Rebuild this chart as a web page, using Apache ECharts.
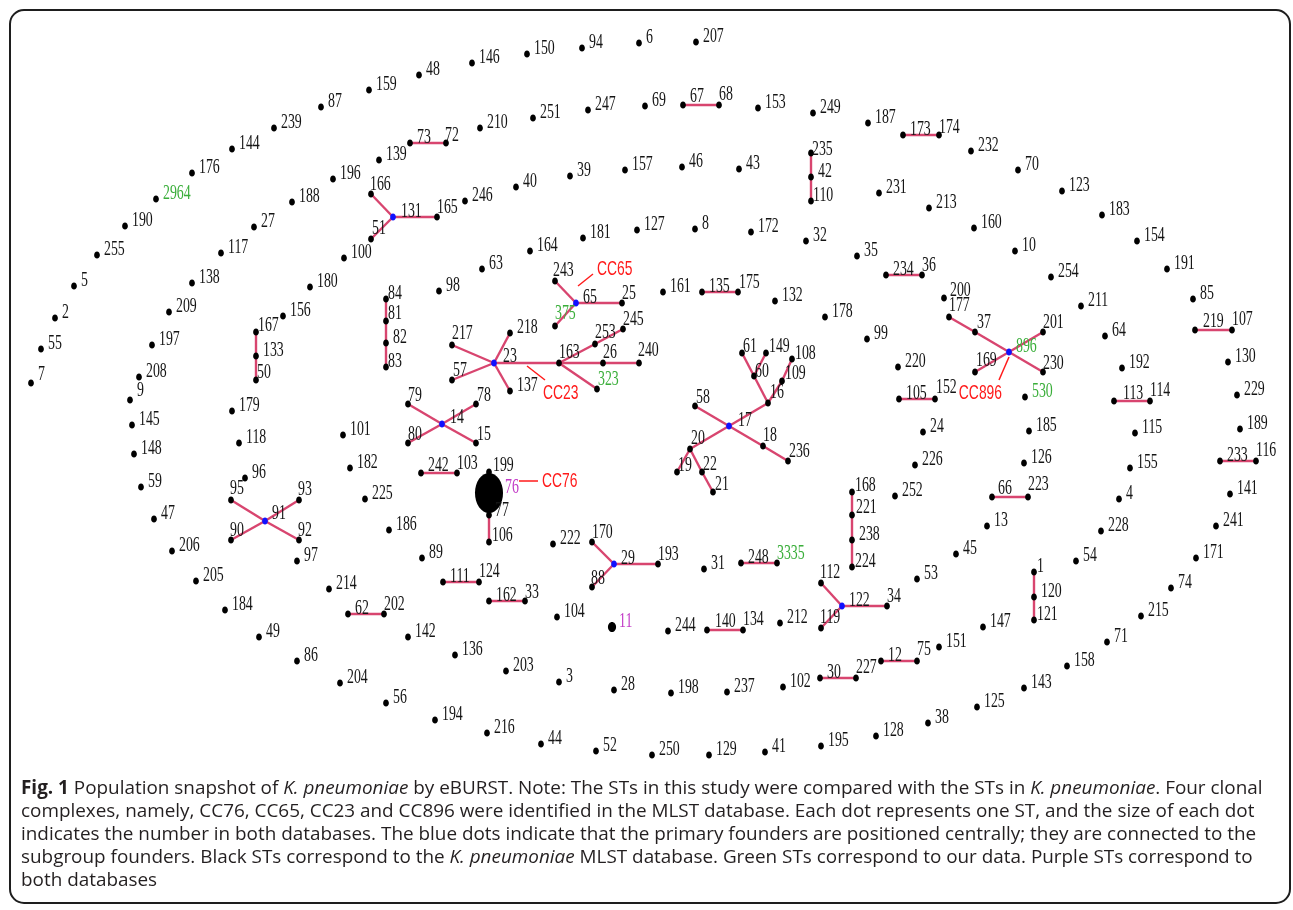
<!DOCTYPE html>
<html>
<head>
<meta charset="utf-8">
<script src="https://cdn.jsdelivr.net/npm/echarts@6/dist/echarts.min.js"></script>
<style>
  html, body { margin: 0; padding: 0; background: #ffffff; }
  #chart { width: 1293px; height: 910px; }
</style>
</head>
<body>
<div id="chart"></div>
<script>
// eBURST snapshot layout: [ST, x, y] in layout units (x to the right, y downward)
const sequenceTypes = [
  // outer ring
  ['7',31,383],['55',41,349],['2',55,318],['5',74,286],['255',97,255],['190',125,226],['2964',156,199],
  ['176',192,173],['144',232,149],['239',274,128],['87',321,107],['159',369,90],['48',419,75],['146',472,63],
  ['150',527,54],['94',582,48],['6',639,43],['207',696,42],
  // second ring
  ['59',141,487],['148',134,454],['145',132,425],['9',130,400],['208',139,377],['197',152,345],['209',169,312],
  ['138',192,283],['117',221,253],['27',254,227],['188',292,202],['196',333,179],['139',379,160],['73',410,143],
  ['72',446,143],['210',480,128],['251',533,118],['247',588,110],['69',645,106],['67',683,105],['68',719,105],
  ['153',758,108],['249',813,113],['187',868,123],['173',903,135],['174',939,135],['232',971,151],['70',1018,170],
  ['123',1062,191],['183',1102,215],['154',1137,241],['191',1167,269],['85',1193,299],['219',1195,330],['107',1232,330],
  ['130',1228,362],['229',1237,395],['189',1240,429],['233',1220,461],['116',1256,461],['141',1230,494],['241',1216,526],
  ['171',1196,558],['74',1171,588],['215',1141,616],['71',1107,642],['158',1067,666],['143',1024,688],['125',977,707],
  ['38',928,723],['128',876,736],['195',821,746],['41',765,752],['129',709,755],['250',652,755],['52',596,751],
  ['44',541,744],['216',487,733],['194',435,720],['56',386,703],['204',340,683],['86',297,661],['49',259,637],
  ['184',225,610],['205',196,581],['206',172,551],['47',154,519],
  // third ring
  ['100',344,258],['180',310,287],['156',283,316],['167',256,332],['133',256,356],['50',256,380],['179',232,411],
  ['118',239,443],['96',245,478],['95',231,500],['93',299,500],['91',265,521],['90',231,540],['92',299,540],
  ['97',297,561],['214',329,589],['62',348,614],['202',384,614],['142',408,637],['136',455,655],['203',506,671],
  ['3',559,682],['28',614,690],['198',671,693],['237',727,692],['102',783,687],['30',820,678],['227',856,678],
  ['12',881,661],['75',917,661],['151',939,647],['147',983,627],['1',1034,572],['120',1034,597],['121',1034,620],
  ['54',1076,561],['228',1101,531],['4',1119,499],['155',1130,468],['115',1135,433],['113',1114,401],['114',1150,401],
  ['192',1122,368],['64',1105,336],['211',1081,306],['254',1051,277],['10',1015,251],['160',974,228],['213',929,208],
  ['231',879,193],['235',811,153],['42',811,177],['110',811,201],['43',739,169],['46',682,167],['157',625,170],
  ['39',570,176],['40',516,187],['246',465,201],['166',371,194],['131',393,217],['165',437,217],['51',371,239],
  // inner area
  ['164',530,251],['181',583,238],['127',637,230],['8',695,229],['172',751,232],['32',806,241],['35',857,256],
  ['234',886,275],['36',922,275],['200',944,298],['177',949,317],['37',975,332],['896',1009,352],['201',1043,332],
  ['169',975,372],['230',1043,372],['530',1025,397],['185',1029,431],['126',1024,463],['66',992,497],['223',1028,497],
  ['13',987,526],['45',956,554],['53',917,579],['112',821,583],['122',842,606],['34',887,606],['119',821,628],
  ['212',780,623],['140',707,630],['134',743,630],['244',668,631],['11',612,627],['104',557,617],['222',553,544],
  ['170',592,542],['29',614,564],['88',592,587],['193',658,564],['31',704,569],['248',741,563],['3335',777,563],
  ['168',852,492],['221',852,515],['238',852,540],['224',852,567],['252',895,496],['226',915,465],['24',923,432],
  ['105',899,399],['152',935,399],['220',898,367],['99',867,339],['178',825,317],['132',775,301],['161',663,292],
  ['135',702,292],['175',738,292],['63',482,269],['98',439,291],['84',386,299],['81',386,321],['82',386,343],
  ['83',386,367],['101',343,435],['182',350,468],['225',365,499],['186',389,530],['89',422,558],['111',443,582],
  ['124',479,582],['162',489,601],['33',525,601],['199',489,472],['76',489,493],['77',489,515],['106',489,542],
  ['242',421,473],['103',457,473],['14',442,424],['79',408,404],['78',476,404],['80',408,443],['15',476,443],
  ['23',494,363],['217',452,345],['57',452,380],['218',510,333],['137',510,391],['163',559,363],['253',595,344],
  ['245',623,329],['26',603,363],['240',639,363],['323',597,389],['65',576,303],['243',555,281],['25',622,303],
  ['375',555,326],['17',729,426],['58',695,406],['16',768,403],['18',763,446],['236',788,461],['20',690,449],
  ['19',677,472],['22',702,472],['21',713,492],['61',742,353],['149',766,353],['60',754,376],['109',782,381],
  ['108',792,359]
];

// single-locus-variant links
const links = [
  ['131','166'],['131','51'],['131','165'],['73','72'],['67','68'],['173','174'],['235','42'],['42','110'],
  ['234','36'],['135','175'],['65','243'],['65','25'],['65','375'],
  ['23','217'],['23','57'],['23','218'],['23','137'],['23','163'],['163','253'],['253','245'],['163','26'],
  ['26','240'],['163','323'],
  ['84','81'],['81','82'],['82','83'],['167','133'],['133','50'],
  ['14','79'],['14','78'],['14','80'],['14','15'],['242','103'],
  ['199','76'],['76','77'],['77','106'],
  ['91','95'],['91','93'],['91','90'],['91','92'],
  ['62','202'],['111','124'],['162','33'],
  ['29','170'],['29','88'],['29','193'],['248','3335'],['140','134'],
  ['168','221'],['221','238'],['238','224'],
  ['122','112'],['122','119'],['122','34'],
  ['30','227'],['12','75'],['1','120'],['120','121'],['66','223'],['113','114'],['219','107'],['233','116'],['105','152'],
  ['896','37'],['37','177'],['896','230'],['896','169'],['896','201'],
  ['17','58'],['17','16'],['17','18'],['18','236'],['17','20'],['20','19'],['20','22'],['22','21'],
  ['16','60'],['60','61'],['60','149'],['16','109'],['109','108']
];

// primary founders (blue)
const founders = ['131','65','23','14','91','29','122','896','17'];
// STs found in this study only (green) and in both databases (purple)
const ourDataSTs = ['2964','375','323','896','530','3335'];
const sharedSTs = ['76','11'];
// number of isolates per ST (drives dot size); all others are 1
const stCounts = { '76': 31, '11': 2 };
// clonal complexes: [name, founder ST]
const clonalComplexes = [['CC65','65'],['CC23','23'],['CC76','76'],['CC896','896']];

// ---- styling / label placement ----
const LABEL_DEFAULT = [7, -6];
const labelNudge = {
  '72':[-1,-8],'68':[0,-11],'174':[0,-8],'235':[1,-4],'110':[2,-6],'166':[-1,-10],'165':[0,-10],'51':[1,-11],
  '84':[2,-6],'81':[2,-8],'83':[2,-6],'243':[-2,-11],'25':[0,-10],'375':[0,-13],'245':[0,-10],'253':[0,-12],
  '217':[0,-12],'163':[0,-11],'26':[0,-11],'240':[-1,-13],'57':[1,-10],'323':[1,-10],'79':[0,-9],'78':[1,-9],
  '80':[0,-9],'15':[1,-9],'103':[0,-10],'199':[4,-7],'76':[16,-6],'77':[6,-5],'106':[3,-7],'170':[0,-10],
  '88':[-1,-9],'193':[0,-10],'3335':[0,-10],'168':[3,-7],'221':[4,-8],'224':[3,-6],'112':[-1,-11],'34':[0,-10],
  '119':[-1,-11],'134':[0,-11],'227':[0,-11],'75':[0,-12],'1':[3,-6],'121':[3,-6],'223':[0,-13],'114':[0,-11],
  '107':[0,-11],'116':[0,-11],'37':[2,-10],'201':[0,-10],'169':[1,-12],'230':[0,-9],'177':[0,-12],'152':[1,-12],
  '36':[0,-10],'175':[1,-10],'61':[1,-7],'149':[3,-7],'108':[3,-6],'60':[1,-5],'109':[3,-8],'16':[2,-11],
  '58':[1,-9],'18':[0,-11],'236':[1,-10],'20':[1,-11],'19':[1,-7],'22':[1,-8],'21':[2,-8],'95':[-1,-12],
  '93':[-1,-11],'90':[-1,-10],'92':[-1,-10],'167':[2,-7],'50':[1,-8],'202':[0,-10],'124':[0,-11],'33':[0,-9],
  '7':[7,-9],'9':[7,-10],'140':[8,-9],'66':[6,-9],'219':[8,-9],'242':[7,-8],'113':[9,-8],'91':[7,-8],
  '67':[7,-9],'200':[6,-8],'131':[8,-6],'14':[8,-7],'23':[9,-7],'17':[9,-6]
};
// callout geometry relative to the founder: leader start, leader end, text anchor, text align
const calloutPlacement = {
  'CC65':  { from:[2,-17], to:[17,-29], text:[21,-34], align:'left' },
  'CC23':  { from:[33,3],  to:[51,17],  text:[49,30],  align:'left' },
  'CC76':  { from:[30,-12],to:[49,-12], text:[53,-12], align:'left' },
  'CC896': { from:[0,5],   to:[-10,28], text:[-7,41],  align:'right' }
};
const COLORS = {
  dot: '#000000', founder: '#1010ff', link: '#d8456f', text: '#141414',
  green: '#3aae3a', purple: '#c23ac6', callout: '#ff1a1a', frame: '#1e1e1e', caption: '#231f20'
};
const TEXT_SQUEEZE = 0.66;

// ---- derived structures ----
const stIndex = {};
sequenceTypes.forEach((r, i) => { stIndex[r[0]] = i; });
const nodeData = sequenceTypes.map(r => [r[1], r[2]]);
const linkData = links.map(([a, b]) => {
  const p = sequenceTypes[stIndex[a]], q = sequenceTypes[stIndex[b]];
  return [p[1], p[2], q[1], q[2]];
});
const calloutData = clonalComplexes.map(([, st]) => {
  const r = sequenceTypes[stIndex[st]];
  return [r[1], r[2]];
});

function labelColor(st) {
  if (ourDataSTs.includes(st)) return COLORS.green;
  if (sharedSTs.includes(st)) return COLORS.purple;
  return COLORS.text;
}

const chart = echarts.init(document.getElementById('chart'), null, { renderer: 'canvas' });

const captionLines = [
  '{b|Fig. 1} Population snapshot of {i|K. pneumoniae} by eBURST. Note: The STs in this study were compared with the STs in {i|K. pneumoniae}. Four clonal',
  'complexes, namely, CC76, CC65, CC23 and CC896 were identified in the MLST database. Each dot represents one ST, and the size of each dot',
  'indicates the number in both databases. The blue dots indicate that the primary founders are positioned centrally; they are connected to the',
  'subgroup founders. Black STs correspond to the {i|K. pneumoniae} MLST database. Green STs correspond to our data. Purple STs correspond to',
  'both databases'
];
const capFont = { fontFamily: '"Open Sans", "Noto Sans", sans-serif', fontSize: 18.9 };

chart.setOption({
  animation: false,
  backgroundColor: '#ffffff',
  grid: { left: 0, right: 0, top: 0, bottom: 0 },
  xAxis: { type: 'value', min: 0, max: 1293, show: false },
  yAxis: { type: 'value', min: 0, max: 910, inverse: true, show: false },
  graphic: [
    {
      type: 'rect', z: 100,
      shape: { x: 10, y: 10, width: 1280, height: 893, r: 14 },
      style: { fill: 'none', stroke: COLORS.frame, lineWidth: 2 }
    }
  ].concat(captionLines.map((t, i) => ({
    type: 'text', z: 100, x: 21, y: 789 + i * 23,
    style: {
      text: t, fill: COLORS.caption, ...capFont, verticalAlign: 'middle', align: 'left',
      rich: {
        b: { ...capFont, fontWeight: 'bold', fill: COLORS.caption },
        i: { ...capFont, fontStyle: 'italic', fill: COLORS.caption }
      }
    }
  }))),
  series: [
    {
      // links between single-locus variants
      type: 'custom', name: 'links', z: 2, silent: true,
      coordinateSystem: 'cartesian2d',
      data: linkData,
      renderItem: (params, api) => {
        const a = api.coord([api.value(0), api.value(1)]);
        const b = api.coord([api.value(2), api.value(3)]);
        return { type: 'line', shape: { x1: a[0], y1: a[1], x2: b[0], y2: b[1] },
                 style: { stroke: COLORS.link, lineWidth: 2.4 } };
      }
    },
    {
      // sequence types: dot + ST label
      type: 'custom', name: 'STs', z: 3, silent: true,
      coordinateSystem: 'cartesian2d',
      data: nodeData,
      renderItem: (params, api) => {
        const st = sequenceTypes[params.dataIndex][0];
        const p = api.coord([api.value(0), api.value(1)]);
        const n = stCounts[st] || 1;
        const r = 3.6 * Math.sqrt(n);
        const isFounder = founders.includes(st);
        const nudge = labelNudge[st] || LABEL_DEFAULT;
        return {
          type: 'group',
          children: [
            { type: 'ellipse', shape: { cx: p[0], cy: p[1], rx: r * (n > 2 ? 0.7 : 0.8), ry: r },
              style: { fill: isFounder ? COLORS.founder : COLORS.dot } },
            { type: 'text', x: p[0] + nudge[0], y: p[1] + nudge[1], scaleX: TEXT_SQUEEZE,
              style: { text: st, fill: labelColor(st), fontFamily: '"Liberation Serif", serif', fontSize: 21,
                       align: 'left', verticalAlign: 'middle' } }
          ]
        };
      }
    },
    {
      // clonal complex callouts
      type: 'custom', name: 'clonal complexes', z: 4, silent: true,
      coordinateSystem: 'cartesian2d',
      data: calloutData,
      renderItem: (params, api) => {
        const cc = clonalComplexes[params.dataIndex][0];
        const g = calloutPlacement[cc];
        const p = api.coord([api.value(0), api.value(1)]);
        return {
          type: 'group',
          children: [
            { type: 'line', shape: { x1: p[0] + g.from[0], y1: p[1] + g.from[1], x2: p[0] + g.to[0], y2: p[1] + g.to[1] },
              style: { stroke: COLORS.callout, lineWidth: 1.5 } },
            { type: 'text', x: p[0] + g.text[0], y: p[1] + g.text[1], scaleX: TEXT_SQUEEZE,
              style: { text: cc, fill: COLORS.callout, fontFamily: '"Liberation Sans", Arial, sans-serif', fontSize: 21,
                       align: g.align, verticalAlign: 'middle' } }
          ]
        };
      }
    }
  ]
});
</script>
</body>
</html>
